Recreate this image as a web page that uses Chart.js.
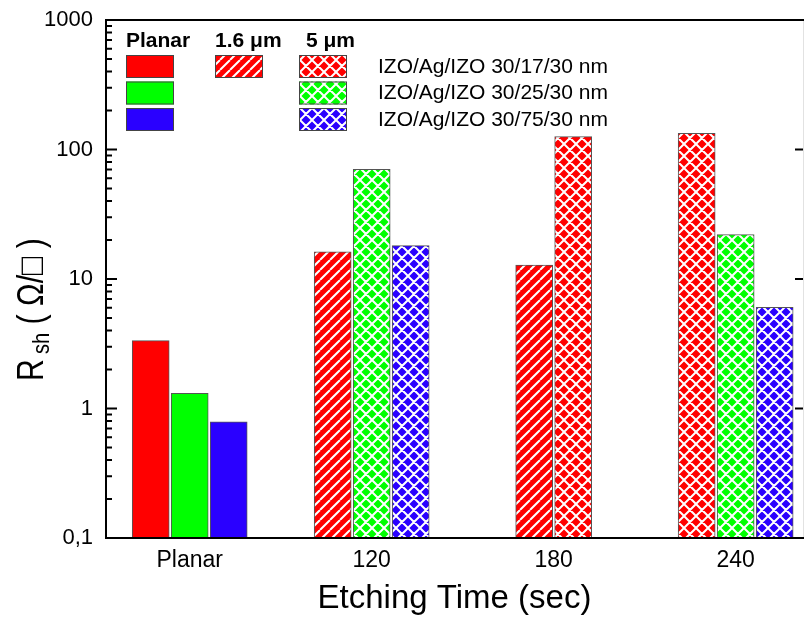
<!DOCTYPE html>
<html>
<head>
<meta charset="utf-8">
<script src="https://cdn.jsdelivr.net/npm/chart.js@4.4.0/dist/chart.umd.min.js"></script>
<style>
  html, body { margin: 0; padding: 0; background: #fff; }
  #wrap { width: 804px; height: 619px; }
</style>
</head>
<body>
<div id="wrap"><canvas id="rshChart" width="804" height="619"></canvas></div>
<script>
// Sheet resistance of IZO/Ag/IZO electrodes vs. etching time
const categories = ['Planar', '120', '180', '240'];
const layerLabels = ['IZO/Ag/IZO 30/17/30 nm', 'IZO/Ag/IZO 30/25/30 nm', 'IZO/Ag/IZO 30/75/30 nm'];
const groupHeaders = ['Planar', '1.6 μm', '5 μm'];

// R_sh in ohm/sq, null where that sample was not made
const planarAg17 = [3.34, null, null, null];
const planarAg25 = [1.31, null, null, null];
const planarAg75 = [0.79, null, null, null];
const pillar16Ag17 = [null, 16.2, 12.8, null];
const pillar5Ag17 = [null, null, 125.6, 133.4];
const pillar5Ag25 = [null, 70.3, null, 22.0];
const pillar5Ag75 = [null, 18.1, null, 6.05];

const yTicks = [0.1, 1, 10, 100, 1000];
const yTickLabels = ['0,1', '1', '10', '100', '1000'];

const RED = '#ff0000', GREEN = '#00ff00', BLUE = '#2a00ff';
const FONT = '"Liberation Sans", Arial, sans-serif';
Chart.defaults.font.family = FONT;
Chart.defaults.color = '#000';

// white line hatching on a coloured tile; cross = diamond mesh, else "/" stripes
function hatch(color, cross) {
  const size = cross ? 12 : 10;
  const c = document.createElement('canvas');
  c.width = size; c.height = size;
  const g = c.getContext('2d');
  g.fillStyle = color;
  g.fillRect(0, 0, size, size);
  g.strokeStyle = '#fff';
  g.lineWidth = 2;
  g.beginPath();
  for (let k = -1; k <= 1; k++) {
    g.moveTo(k * size, size); g.lineTo(k * size + size, 0);
    if (cross) { g.moveTo(k * size, 0); g.lineTo(k * size + size, size); }
  }
  g.stroke();
  return g.createPattern(c, 'repeat');
}

// axis frame with inward ticks, decades long and 2..9 short
const framePlugin = {
  id: 'frame',
  afterDatasetsDraw(chart) {
    const { ctx, chartArea: a, scales: { y } } = chart;
    ctx.save();
    ctx.strokeStyle = '#e2e2e2';
    ctx.lineWidth = 1;
    ctx.beginPath();
    ctx.moveTo(a.right + 0.5, a.top); ctx.lineTo(a.right + 0.5, a.bottom);
    ctx.stroke();
    ctx.strokeStyle = '#000';
    ctx.lineWidth = 2;
    ctx.beginPath();
    ctx.moveTo(a.left - 1, a.top); ctx.lineTo(a.right + 2, a.top);
    ctx.moveTo(a.left, a.top); ctx.lineTo(a.left, a.bottom);
    ctx.moveTo(a.left - 1, a.bottom); ctx.lineTo(a.right + 2, a.bottom);
    for (let d = 0; d < yTicks.length; d++) {
      const p = y.getPixelForValue(yTicks[d]);
      ctx.moveTo(a.left, p); ctx.lineTo(a.left + 11, p);
      if (d > 0 && d < yTicks.length - 1) { ctx.moveTo(a.right, p); ctx.lineTo(a.right - 8, p); }
      if (d < yTicks.length - 1) {
        for (let m = 2; m < 10; m++) {
          const q = y.getPixelForValue(yTicks[d] * m);
          ctx.moveTo(a.left, q); ctx.lineTo(a.left + 6, q);
        }
      }
    }
    ctx.stroke();
    ctx.restore();
  }
};

// key block: column headers, swatch grid and layer labels
const keyPlugin = {
  id: 'keyBlock',
  afterDraw(chart) {
    const ctx = chart.ctx;
    const sets = chart.data.datasets;
    const cols = [126, 215, 299];
    const rows = [55, 81.5, 108];
    const slots = [[0, 0], [0, 1], [0, 2], [1, 0], [2, 0], [2, 1], [2, 2]];
    ctx.save();
    ctx.fillStyle = '#000';
    ctx.font = 'bold 21px ' + FONT;
    ctx.textBaseline = 'alphabetic';
    groupHeaders.forEach((h, i) => ctx.fillText(h, cols[i] + (i === 2 ? 7 : 0), 47));
    sets.forEach((d, i) => {
      const [c, r] = slots[i];
      ctx.fillStyle = d.backgroundColor;
      ctx.fillRect(cols[c], rows[r], 48, 23);
      ctx.strokeStyle = '#444';
      ctx.lineWidth = 1;
      ctx.strokeRect(cols[c] + 0.5, rows[r] + 0.5, 47, 22);
    });
    ctx.fillStyle = '#000';
    ctx.font = '21px ' + FONT;
    ctx.textBaseline = 'middle';
    layerLabels.forEach((t, r) => ctx.fillText(t, 378, rows[r] + 12));
    ctx.restore();
  }
};

// rotated y title with subscript
const yTitlePlugin = {
  id: 'yTitle',
  afterDraw(chart) {
    const ctx = chart.ctx;
    ctx.save();
    ctx.translate(43, 381);
    ctx.rotate(-Math.PI / 2);
    ctx.scale(0.84, 1);
    ctx.fillStyle = '#000';
    ctx.textBaseline = 'alphabetic';
    let x = 0;
    ctx.font = '36px ' + FONT;
    ctx.fillText('R', x, 0);
    x += ctx.measureText('R').width + 6;
    ctx.font = '24px ' + FONT;
    ctx.fillText('sh', x, 6);
    x += ctx.measureText('sh').width;
    ctx.font = '36px ' + FONT;
    ctx.fillText(' ( Ω/□ )', x, 0);
    ctx.restore();
  }
};

function bar(data, fill) {
  return { data, backgroundColor: fill };
}

new Chart(document.getElementById('rshChart'), {
  type: 'bar',
  data: {
    labels: categories.map((_, i) => i),
    datasets: [
      bar(planarAg17, RED),
      bar(planarAg25, GREEN),
      bar(planarAg75, BLUE),
      bar(pillar16Ag17, hatch(RED, false)),
      bar(pillar5Ag17, hatch(RED, true)),
      bar(pillar5Ag25, hatch(GREEN, true)),
      bar(pillar5Ag75, hatch(BLUE, true))
    ]
  },
  options: {
    responsive: false,
    devicePixelRatio: 1,
    animation: false,
    layout: { padding: { top: 20, right: 1, left: 0, bottom: 0 } },
    plugins: { legend: { display: false }, tooltip: { enabled: false } },
    datasets: {
      bar: { barThickness: 39, maxBarThickness: 37, skipNull: true, borderWidth: 1, borderColor: '#555', borderSkipped: false }
    },
    scales: {
      x: {
        type: 'linear',
        offset: false,
        bounds: 'data',
        min: -0.46,
        max: 3.37,
        afterBuildTicks: s => { s.ticks = categories.map((_, i) => ({ value: i })); },
        ticks: { callback: v => categories[v], font: { size: 23 }, padding: 9, maxRotation: 0, autoSkip: false },
        grid: { display: false, drawTicks: false },
        border: { display: false },
        title: { display: true, text: 'Etching Time (sec)', font: { size: 33 }, padding: { top: 0, bottom: 0 } },
        afterFit: s => { s.height = 81; }
      },
      y: {
        type: 'logarithmic',
        min: 0.1,
        max: 1000,
        afterBuildTicks: s => { s.ticks = yTicks.map(v => ({ value: v })); },
        ticks: { callback: v => yTickLabels[yTicks.indexOf(v)], font: { size: 22 }, padding: 13 },
        grid: { display: false, drawTicks: false },
        border: { display: false },
        afterFit: s => { s.width = 106; s.paddingTop = 0; s.paddingBottom = 0; }
      }
    }
  },
  plugins: [framePlugin, keyPlugin, yTitlePlugin]
});
</script>
</body>
</html>
